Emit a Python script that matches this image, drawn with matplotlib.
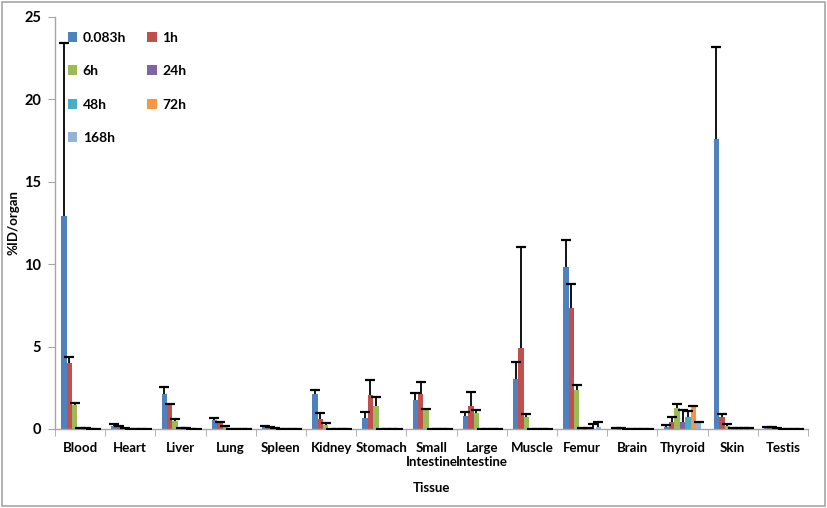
import matplotlib
matplotlib.use("Agg")
import matplotlib.pyplot as plt
import numpy as np
from matplotlib.patches import Rectangle

plt.rcParams['font.family'] = ['Lato', 'DejaVu Sans']

tissues = ["Blood", "Heart", "Liver", "Lung", "Spleen", "Kidney", "Stomach",
           "Small\nIntestine", "Large\nIntestine", "Muscle", "Femur", "Brain",
           "Thyroid", "Skin", "Testis"]
series = ["0.083h", "1h", "6h", "24h", "48h", "72h", "168h"]
colors = ["#4F81BD", "#C0504D", "#9BBB59", "#8064A2", "#4BACC6", "#F79646", "#95B3D7"]

v_0083h = [12.9, 0.20, 2.14, 0.53, 0.14, 2.10, 0.69, 1.76, 0.81, 3.03, 9.86, 0.06, 0.14, 17.6, 0.12]
e_0083h = [10.5, 0.12, 0.41, 0.14, 0.06, 0.26, 0.34, 0.44, 0.24, 1.01, 1.61, 0.03, 0.08, 5.6, 0.03]
v_1h = [4.00, 0.14, 1.45, 0.36, 0.10, 0.60, 2.06, 2.10, 1.39, 4.91, 7.37, 0.04, 0.44, 0.73, 0.12]
e_1h = [0.38, 0.06, 0.06, 0.05, 0.03, 0.35, 0.94, 0.73, 0.87, 6.14, 1.42, 0.02, 0.28, 0.16, 0.03]
v_6h = [1.45, 0.05, 0.50, 0.15, 0.04, 0.22, 1.40, 1.13, 0.99, 0.71, 2.36, 0.02, 1.29, 0.20, 0.06]
e_6h = [0.15, 0.02, 0.13, 0.03, 0.02, 0.12, 0.56, 0.10, 0.18, 0.18, 0.31, 0.01, 0.24, 0.08, 0.02]
v_24h = [0.03, 0.01, 0.03, 0.01, 0.01, 0.02, 0.02, 0.02, 0.02, 0.02, 0.03, 0.01, 0.40, 0.05, 0.01]
e_24h = [0.01, 0.01, 0.01, 0.01, 0.01, 0.01, 0.01, 0.01, 0.01, 0.01, 0.01, 0.01, 0.77, 0.02, 0.01]
v_48h = [0.03, 0.01, 0.03, 0.01, 0.01, 0.02, 0.02, 0.02, 0.02, 0.02, 0.03, 0.01, 0.71, 0.07, 0.01]
e_48h = [0.01, 0.01, 0.01, 0.01, 0.01, 0.01, 0.01, 0.01, 0.01, 0.01, 0.01, 0.01, 0.39, 0.02, 0.01]
v_72h = [0.02, 0.01, 0.02, 0.01, 0.01, 0.02, 0.02, 0.02, 0.02, 0.02, 0.03, 0.01, 1.31, 0.04, 0.01]
e_72h = [0.01, 0.01, 0.01, 0.01, 0.01, 0.01, 0.01, 0.01, 0.01, 0.01, 0.27, 0.01, 0.10, 0.02, 0.01]
v_168h = [0.02, 0.01, 0.02, 0.01, 0.01, 0.02, 0.02, 0.02, 0.02, 0.02, 0.15, 0.01, 0.34, 0.03, 0.01]
e_168h = [0.01, 0.01, 0.01, 0.01, 0.01, 0.01, 0.01, 0.01, 0.01, 0.01, 0.25, 0.01, 0.06, 0.01, 0.01]

values = [v_0083h, v_1h, v_6h, v_24h, v_48h, v_72h, v_168h]
errors = [e_0083h, e_1h, e_6h, e_24h, e_48h, e_72h, e_168h]

fig = plt.figure(figsize=(8.27, 5.08), dpi=100)
fig.patches.append(Rectangle((0.003, 0.004), 0.994, 0.992, transform=fig.transFigure,
                             fill=False, edgecolor="#A6A6A6", linewidth=1.2))
ax = fig.add_axes([55/827, 79/508, 753/827, 412/508])

x = np.arange(len(tissues))
w = 0.108
n = len(series)
handles = []
for i, (name, vals, errs, c) in enumerate(zip(series, values, errors, colors)):
    pos = x + (i - (n - 1) / 2) * w
    vals = np.array(vals)
    tops = vals + np.array(errs)
    h = ax.bar(pos, vals, width=w, color=c, label=name, linewidth=0, zorder=2)
    handles.append(h)
    ax.vlines(pos, vals, tops, colors="black", linewidth=1.3, zorder=3)
    ax.plot(pos, tops, linestyle="none", marker="_", markersize=6.5,
            markeredgewidth=1.6, color="black", zorder=3)

ax.set_xlim(-0.5, len(tissues) - 0.5)
ax.set_ylim(0, 25)
ax.set_yticks([0, 5, 10, 15, 20, 25])
ax.set_xticks(x)
ax.set_xticklabels(tissues, fontsize=9.5, fontweight="bold", linespacing=1.25)
ax.set_xticks(np.arange(-0.5, len(tissues), 1.0), minor=True)
ax.tick_params(axis="x", which="major", length=0, pad=9)
ax.tick_params(axis="x", which="minor", length=5, color="#A6A6A6", direction="out")
ax.tick_params(axis="y", length=5, color="#A6A6A6", labelsize=10.5, pad=5)
for lbl in ax.get_yticklabels():
    lbl.set_fontweight("bold")

for s in ["top", "right"]:
    ax.spines[s].set_visible(False)
for s in ["left", "bottom"]:
    ax.spines[s].set_color("#A6A6A6")
    ax.spines[s].set_linewidth(1.0)

ax.set_ylabel("%ID/organ", fontsize=9.5, fontweight="bold", labelpad=3)
ax.set_xlabel("Tissue", fontsize=9.5, fontweight="bold", labelpad=10)

order = [0, 2, 4, 6, 1, 3, 5]
leg = ax.legend([handles[k] for k in order], [series[k] for k in order],
                ncol=2, loc="upper left", bbox_to_anchor=(0.0, 0.995), frameon=False,
                prop={"size": 10, "weight": "bold"}, handlelength=0.7, handleheight=0.7,
                handletextpad=0.4, columnspacing=1.5, labelspacing=1.55)

fig.savefig("out.png", dpi=100)
